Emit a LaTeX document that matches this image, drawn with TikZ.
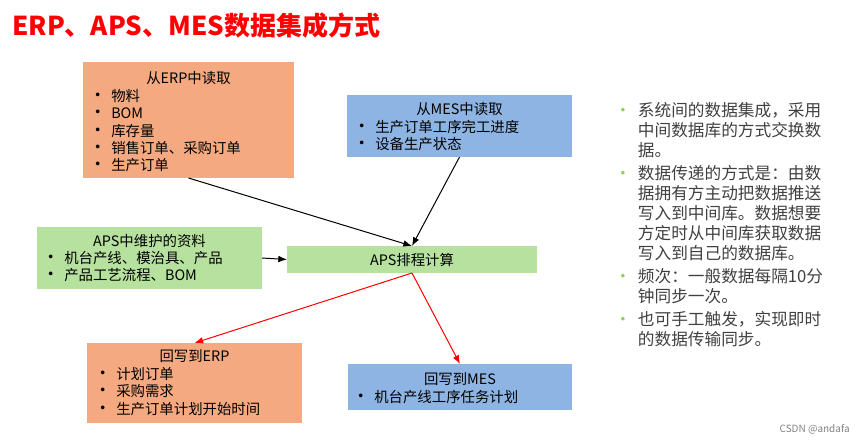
\documentclass[tikz,border=0pt]{standalone}
\usepackage{fontspec}
\setmainfont{Noto Sans CJK SC}
\usetikzlibrary{positioning,arrows.meta}
\definecolor{erpfill}{RGB}{244,169,128}
\definecolor{mesfill}{RGB}{141,180,226}
\definecolor{apsfill}{RGB}{182,225,158}
\definecolor{notegray}{RGB}{64,64,64}
\definecolor{dotgreen}{RGB}{146,208,80}
\newcommand{\itm}{\makebox[13.5pt][l]{\hspace{-3pt}{\fontsize{13}{13}\selectfont•}}}
\newcommand{\gdot}{\makebox[14pt][l]{\hspace{-3.5pt}\textcolor{dotgreen}{•}}}

\begin{document}
\begin{tikzpicture}[x=0.75pt, y=-0.75pt,
      font=\fontsize{10.8}{13}\selectfont, >={Latex[length=6.5pt,width=5pt]},
      box/.style={inner sep=0pt, outer sep=0pt},
      hd/.style={anchor=base, inner sep=0pt},
      lst/.style={anchor=base west, inner sep=0pt},
      ar/.style={->, line width=0.75pt},
      rar/.style={ar, red}
    ]
    \useasboundingbox (0,0) rectangle (865,443);

    % ===== title =====
    \node[anchor=base west, inner sep=0pt, text=red, font=\fontsize{19.5}{23}\selectfont\bfseries] (ttl) at (12,35) {ERP、APS、MES数据集成方式};

    % ===== read from ERP =====
    \node[box, fill=erpfill, minimum width=158.25pt, minimum height=87pt] (erpin) at (188.5,120) {};
    \node[hd] (erpinT) at (188.5,83.5) {从ERP中读取};
    \node[lst] (erpinL) at (93,101.5) {\begin{tabular}[t]{@{}l@{}}\itm 物料\\ \itm BOM\\ \itm 库存量\\ \itm 销售订单、采购订单\\ \itm 生产订单\end{tabular}};

    % ===== read from MES =====
    \node[box, fill=mesfill, minimum width=168.75pt, minimum height=46.5pt] (mesin) at (459.5,126) {};
    \node[hd] (mesinT) at (459.5,114.5) {从MES中读取};
    \node[lst] (mesinL) at (357,132.5) {\begin{tabular}[t]{@{}l@{}}\itm 生产订单工序完工进度\\ \itm 设备生产状态\end{tabular}};

    % ===== APS own data =====
    \node[box, fill=apsfill, minimum width=168.75pt, minimum height=46.5pt] (apsdat) at (149.5,258) {};
    \node[hd] (apsdatT) at (149.5,246.5) {APS中维护的资料};
    \node[lst] (apsdatL) at (46,263.5) {\begin{tabular}[t]{@{}l@{}}\itm 机台产线、模治具、产品\\ \itm 产品工艺流程、BOM\end{tabular}};

    % ===== APS scheduling =====
    \node[box, fill=apsfill, minimum width=187.5pt, minimum height=20.25pt] (aps) at (412,259.5) {APS排程计算};

    % ===== write back to ERP =====
    \node[box, fill=erpfill, minimum width=161.25pt, minimum height=60pt] (erpout) at (194.5,383) {};
    \node[hd] (erpoutT) at (194.5,361.5) {回写到ERP};
    \node[lst] (erpoutL) at (98,379.5) {\begin{tabular}[t]{@{}l@{}}\itm 计划订单\\ \itm 采购需求\\ \itm 生产订单计划开始时间\end{tabular}};

    % ===== write back to MES =====
    \node[box, fill=mesfill, minimum width=168pt, minimum height=34.5pt] (mesout) at (460,387) {};
    \node[hd] (mesoutT) at (460,384.5) {回写到MES};
    \node[lst] (mesoutL) at (356,402.5) {\begin{tabular}[t]{@{}l@{}}\itm 机台产线工序任务计划\end{tabular}};

    % ===== flow =====
    \draw[ar] (erpin.south) -- (aps.north);
    \draw[ar] (mesin.south) -- (aps.north);
    \draw[ar] (apsdat.east) -- (aps.west);
    \draw[rar] (aps.south) -- (erpout.north);
    \draw[rar] (aps.south) -- (mesout.north);

    % notes on the right
    \node[lst, text=notegray, font=\fontsize{12.5}{15}\selectfont] (notes) at (619,116.3) {\begin{tabular}[t]{@{}l@{}l@{}}
      \gdot & 系统间的数据集成，采用\\
            & 中间数据库的方式交换数\\
            & 据。\\[2pt]
      \gdot & 数据传递的方式是：由数\\
            & 据拥有方主动把数据推送\\
            & 写入到中间库。数据想要\\
            & 方定时从中间库获取数据\\
            & 写入到自己的数据库。\\[2pt]
      \gdot & 频次：一般数据每隔10分\\
            & 钟同步一次。\\[2pt]
      \gdot & 也可手工触发，实现即时\\
            & 的数据传输同步。
    \end{tabular}};

    \node[anchor=east, inner sep=0pt, text=gray, font=\fontsize{7.5}{9}\selectfont] (wm) at (850,429) {CSDN @andafa};
    \end{tikzpicture}
\end{document}
